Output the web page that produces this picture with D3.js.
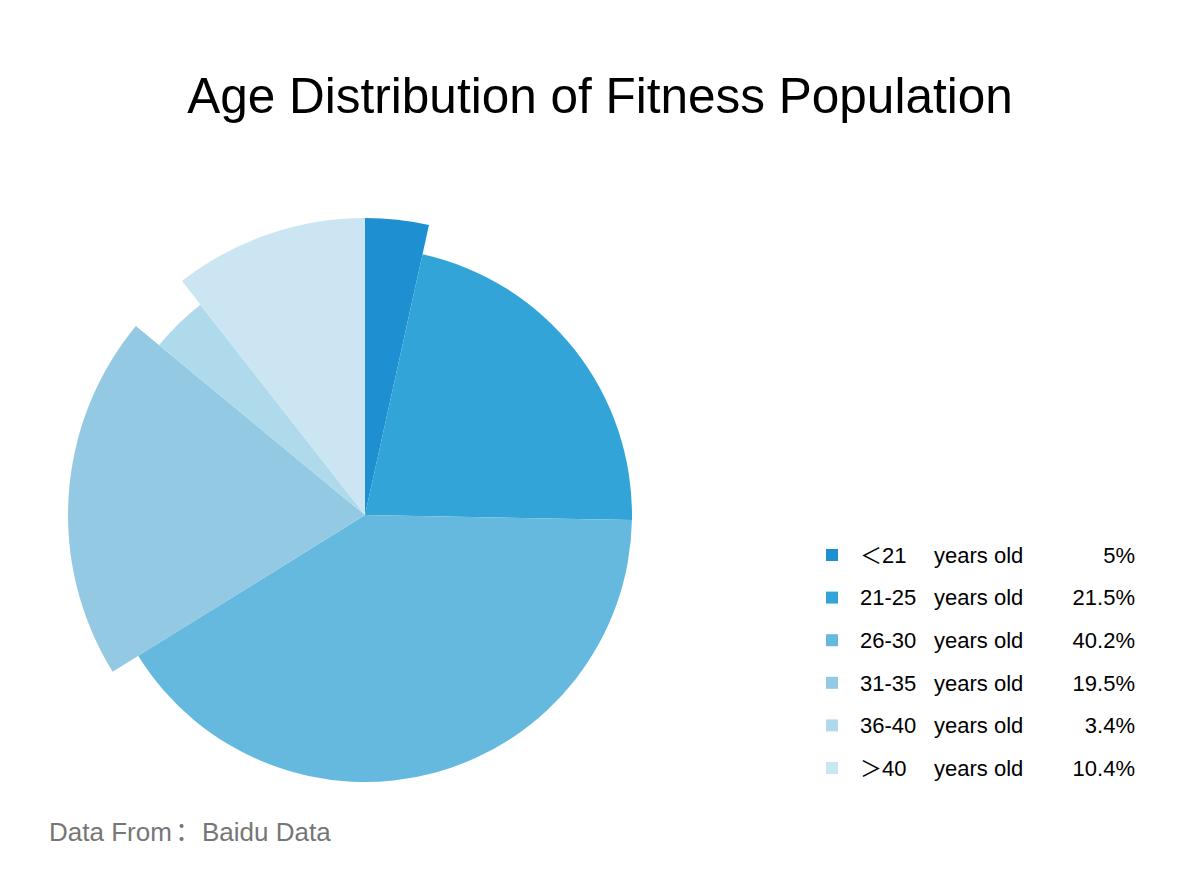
<!DOCTYPE html>
<html>
<head>
<meta charset="utf-8">
<script src="https://cdn.jsdelivr.net/npm/d3@7"></script>
<style>
  body { margin: 0; background: #fff; }
  text { font-family: "Liberation Sans", Arial, "Noto Sans CJK SC", sans-serif; }
</style>
</head>
<body>
<div id="vis"></div>
<script>
const width = 1200;
const height = 890;

// Age groups and their shares
const ageGroups = ["＜21", "21-25", "26-30", "31-35", "36-40", "＞40"];
const percentLabels = ["5%", "21.5%", "40.2%", "19.5%", "3.4%", "10.4%"];
// values that drive the slice angles (as drawn in the original)
const sliceValues = [3.4, 21.5, 40.2, 19.5, 3.4, 10.4];
// groups drawn pulled out with the longer radius
const expandedGroups = ["＜21", "31-35", "＞40"];
const colors = ["#1e8fd0", "#32a4d7", "#65b9df", "#93c9e3", "#afdaec", "#cbe6f2"];

const data = ageGroups.map((g, i) => ({ group: g, value: sliceValues[i], label: percentLabels[i] }));

const svg = d3.select("#vis")
    .append("svg")
    .attr("width", width)
    .attr("height", height);

// Title
svg.append("text")
    .attr("x", 600)
    .attr("y", 113)
    .attr("text-anchor", "middle")
    .style("font-size", "49.5px")
    .style("fill", "#000")
    .text("Age Distribution of Fitness Population");

// Pie
const cx = 365, cy = 515;
const color = d3.scaleOrdinal().domain(ageGroups).range(colors);

const pie = d3.pie()
    .value(d => d.value)
    .sort(null);

const arc = d3.arc()
    .innerRadius(0)
    .outerRadius(d => expandedGroups.includes(d.data.group) ? 297 : 267);

svg.append("g")
    .attr("transform", `translate(${cx},${cy})`)
    .selectAll("path")
    .data(pie(data))
    .enter().append("path")
    .attr("d", arc)
    .attr("fill", d => color(d.data.group));

// Legend
const legendY = d3.scalePoint()
    .domain(ageGroups)
    .range([555, 768]);

const legend = svg.append("g")
    .selectAll("g")
    .data(data)
    .enter().append("g")
    .attr("transform", d => `translate(0,${legendY(d.group)})`);

legend.append("rect")
    .attr("x", 826)
    .attr("y", -6)
    .attr("width", 12)
    .attr("height", 12)
    .attr("fill", d => color(d.group));

legend.append("text")
    .attr("x", 860)
    .attr("dy", "0.35em")
    .style("font-size", "22px")
    .text(d => d.group);

legend.append("text")
    .attr("x", 934)
    .attr("dy", "0.35em")
    .style("font-size", "22px")
    .text("years old");

legend.append("text")
    .attr("x", 1135)
    .attr("dy", "0.35em")
    .attr("text-anchor", "end")
    .style("font-size", "22px")
    .text(d => d.label);

// Source note
const note = svg.append("text")
    .attr("y", 841)
    .style("font-size", "26px")
    .style("fill", "#767676");
note.append("tspan").attr("x", 49).text("Data From");
note.append("tspan").attr("x", 175).text("：");
note.append("tspan").attr("x", 202).text("Baidu Data");
</script>
</body>
</html>
